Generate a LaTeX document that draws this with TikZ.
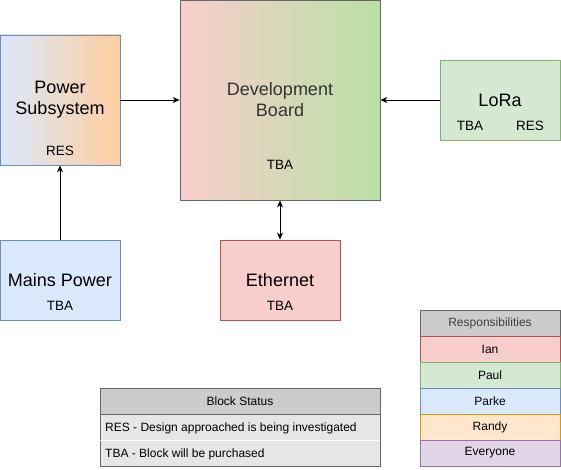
\documentclass[tikz,border=0pt]{standalone}
\usepackage{fontspec}
\setmainfont{Liberation Sans}
\usepackage{tikz}
\usetikzlibrary{arrows.meta}

\definecolor{redfill}{HTML}{F8CECC}
\definecolor{redline}{HTML}{B85450}
\definecolor{greenfill}{HTML}{D5E8D4}
\definecolor{greenline}{HTML}{82B366}
\definecolor{devgreen}{HTML}{B9E0A5}
\definecolor{bluefill}{HTML}{DAE8FC}
\definecolor{blueline}{HTML}{6C8EBF}
\definecolor{orangefill}{HTML}{FFE6CC}
\definecolor{orangegrad}{HTML}{FFCE9F}
\definecolor{orangeline}{HTML}{D79B00}
\definecolor{purplefill}{HTML}{E1D5E7}
\definecolor{purpleline}{HTML}{9673A6}
\definecolor{greyfill}{HTML}{CCCCCC}
\definecolor{greyline}{HTML}{666666}
\definecolor{rowfill}{HTML}{E6E6E6}

\tikzset{
    block/.style={draw, line width=0.8pt, inner sep=0pt, align=center,
        font=\fontsize{18}{21}\selectfont},
    tag/.style={font=\fontsize{13.5}{16}\selectfont, inner sep=0pt},
    cell/.style={draw, line width=0.8pt, minimum height=26pt, inner sep=0pt,
        font=\fontsize{12}{14}\selectfont},
    link/.style={line width=0.8pt, -{Stealth[length=7pt, width=6pt]}}
}

\begin{document}
\begin{tikzpicture}[x=1pt, y=-1pt]
        \useasboundingbox (0,0) rectangle (561,470);
        % blocks
        \node[block, draw=blueline, left color=bluefill, right color=orangegrad,
            minimum width=120pt, minimum height=130pt] (power) at (60,100) {Power\\Subsystem};
        \node[block, draw=greyline, left color=redfill, right color=devgreen,
            text=black!80, minimum width=200pt, minimum height=200pt] (devboard) at (280,100) {Development\\Board};
        \node[block, draw=greenline, fill=greenfill,
            minimum width=120pt, minimum height=80pt] (lora) at (500,100) {LoRa};
        \node[block, draw=blueline, fill=bluefill,
            minimum width=120pt, minimum height=80pt] (mains) at (60,280) {Mains Power};
        \node[block, draw=redline, fill=redfill,
            minimum width=120pt, minimum height=80pt] (ethernet) at (280,280) {Ethernet};

        % status tags
        \node[tag] (powertag) at (60,151) {RES};
        \node[tag] (devtag) at (280,165) {TBA};
        \node[tag] (loratba) at (470,126) {TBA};
        \node[tag] (lorares) at (530,126) {RES};
        \node[tag] (mainstag) at (60,306) {TBA};
        \node[tag] (ethtag) at (280,306) {TBA};

        % links
        \draw[link] (power.east) -- (devboard.west);
        \draw[link] (lora.west) -- (devboard.east);
        \draw[link] (mains.north) -- (power.south);
        \draw[link, {Stealth[length=7pt, width=6pt]}-{Stealth[length=7pt, width=6pt]}] (devboard.south) -- (ethernet.north);

        % responsibilities
        \begin{scope}[every node/.style={cell, minimum width=140pt}]
            \node[draw=greyline, fill=greyfill, text=black!75] (resphead) at (490,323) {Responsibilities};
            \node[draw=redline, fill=redfill] (ian) at (490,349) {Ian};
            \node[draw=greenline, fill=greenfill] (paul) at (490,375) {Paul};
            \node[draw=blueline, fill=bluefill] (parke) at (490,401) {Parke};
            \node[draw=orangeline, fill=orangefill] (randy) at (490,427) {Randy};
            \node[draw=purpleline, fill=purplefill] (everyone) at (490,453) {Everyone};
        \end{scope}

        % block status
        \begin{scope}[every node/.style={cell, minimum width=280pt}]
            \node[draw=greyline, fill=greyfill] (statushead) at (240,401) {Block Status};
            \node[draw=greyline, fill=rowfill] (resrow) at (240,427) {};
            \node[draw=greyline, fill=rowfill] (tbarow) at (240,453) {};
        \end{scope}
        \draw[white, line width=0.8pt] ([xshift=0.8pt]resrow.south west) -- ([xshift=-0.8pt]resrow.south east);
        \node[tag, font=\fontsize{12}{14}\selectfont, anchor=west] (restext) at (105,428) {RES - Design approached is being investigated};
        \node[tag, font=\fontsize{12}{14}\selectfont, anchor=west] (tbatext) at (105,454) {TBA - Block will be purchased};
\end{tikzpicture}
\end{document}
